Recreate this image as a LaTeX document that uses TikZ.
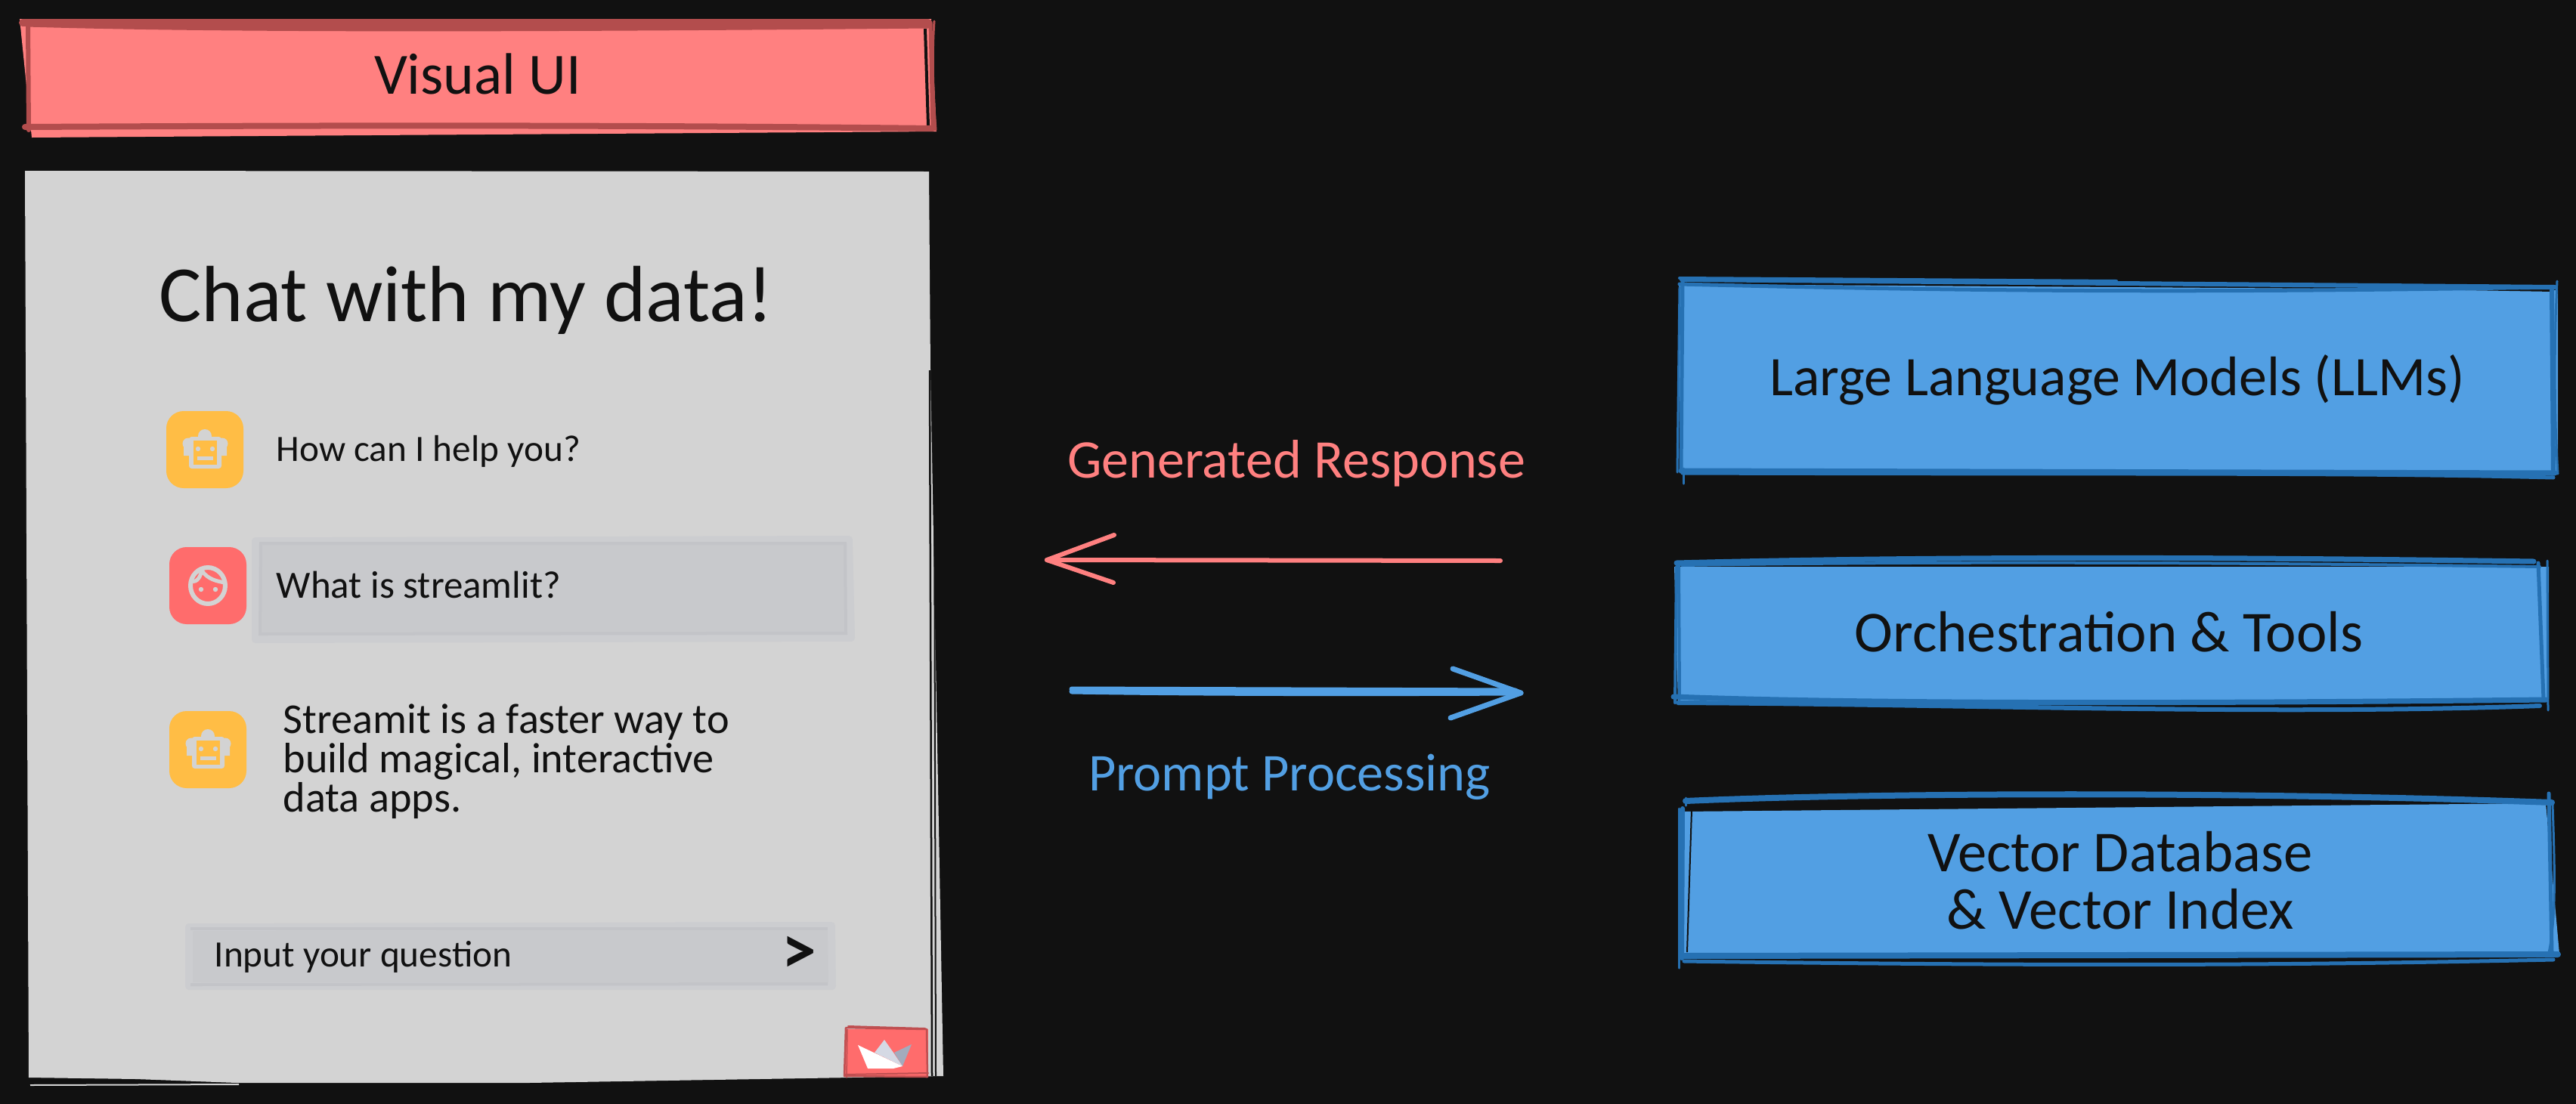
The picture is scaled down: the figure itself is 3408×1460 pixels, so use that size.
\documentclass[tikz,border=0pt]{standalone}
\usepackage{fontspec}
\setmainfont{Carlito}
\definecolor{bgk}{HTML}{111111}
\definecolor{panel}{HTML}{D3D3D3}
\definecolor{salmon}{HTML}{FF8080}
\definecolor{salmond}{HTML}{B34D4D}
\definecolor{skyb}{HTML}{529FE3}
\definecolor{skyd}{HTML}{2671B3}
\definecolor{amber}{HTML}{FFBD45}
\definecolor{coral}{HTML}{FF6C6C}
\definecolor{coral2}{HTML}{BF4F51}
\definecolor{chipf}{HTML}{C8C9CC}
\definecolor{chipl}{HTML}{CCCDD0}
\definecolor{chipd}{HTML}{C3C4C8}
\definecolor{crownm}{HTML}{D5D9E4}
\definecolor{crownd}{HTML}{A3ABBD}
\tikzset{
  lw/.style={line width=#1*0.2845pt},
  rough/.style={line cap=round,line join=round},
  salmonstroke/.style={rough,draw=salmond,lw=#1},
  bluestroke/.style={rough,draw=skyd,lw=#1},
  inktext/.style={text=bgk,inner sep=0pt},
  hero/.style={inktext,font=\fontsize{30}{34}\selectfont},
  chat/.style={inktext,font=\fontsize{14}{15}\selectfont},
  boxtext/.style={inktext,font=\fontsize{21.8}{21.6}\selectfont},
  iconbox/.style={rounded corners=6.5pt},
  iconink/.style={draw=panel,fill=none,lw=6,line join=round},
  redarrow/.style={rough,draw=salmon,lw=6},
  bluearrow/.style={rough,draw=skyb,lw=7},
  pics/robot/.style={code={
    \fill[iconbox,amber] (-51,-51) rectangle (51,51);
    \fill[panel] (0,-18) circle (9);
    \fill[panel] (-22,-8) circle (7.5) (23,-8) circle (7.5);
    \fill[panel] (-28,-5) rectangle (-18,8) (19,-5) rectangle (29,8);
    \fill[panel,rounded corners=1pt] (-21,-17) rectangle (22,25);
    \fill[amber] (-15,-12) rectangle (16,20);
    \fill[panel] (-9,-1) circle (3.2) (10,-1) circle (3.2);
    \fill[panel] (-10,9) rectangle (11,14);
  }},
  pics/person/.style={code={
    \fill[iconbox,coral] (-51,-51) rectangle (51,51);
    \draw[iconink] (0,0) ellipse (23 and 24);
    \draw[iconink,lw=5] (-21,-6) .. controls (-14,-4) and (-10,-12) .. (-8,-20);
    \draw[iconink,lw=5] (-8,-20) .. controls (0,-8) and (12,-6) .. (22,-4);
    \fill[panel] (-9,5) circle (3.2) (10,5) circle (3.2);
  }}
}
\begin{document}
\begin{tikzpicture}[x=0.01cm,y=-0.01cm]
\useasboundingbox (0,0) rectangle (3408,1460);
\fill[bgk] (-5,-5) rectangle (3413,1465);

% --- Visual UI header
\fill[salmon] (26,25) -- (1232,25) -- (1239,174) -- (42,182) -- cycle;
\draw[bgk,lw=4] (1224,38) -- (1228,166);
\draw[salmonstroke=6] (37,29) -- (38,172);
\draw[salmonstroke=5] (1231,30) -- (1234,170);
\draw[salmonstroke=3] (1236,28) .. controls (1233,70) and (1234,120) .. (1238,172);
\draw[salmonstroke=10] (30,30) -- (1228,30);
\draw[salmonstroke=7] (36,32) .. controls (300,40) and (700,39) .. (1228,34);
\draw[salmonstroke=8] (33,168) .. controls (400,166) and (800,165) .. (1234,170);
\node[inktext,font=\fontsize{22}{22}\selectfont] (vui) at (632,98) {Visual UI};

% --- Chat panel
\fill[panel] (33,226) -- (1229,227) -- (1231,490) -- (1248,1424) -- (700,1433) -- (313,1433) -- (180,1428) -- (38,1426) -- cycle;
\draw[panel,lw=2] (40,1436) -- (316,1435);
\draw[bgk,lw=2.5] (1230,490) -- (1233,1424);
\draw[bgk,lw=2] (1236,600) -- (1238,1424);
\node[hero] (title) at (617,397) {Chat with my data!};

% message 1
\pic at (271,595) {robot};
\node[chat,anchor=west] (m1) at (365,597) {How can I help you?};
% message 2
\pic at (275,775) {person};
\draw[chipl,fill=chipf,lw=10,rough] (338,716) -- (1123,714) -- (1126,844) -- (338,846) -- cycle;
\draw[chipd,lw=4] (345,719) -- (1118,719) -- (1119,838) -- (344,839) -- cycle;
\fill[chipf] (347,722) rectangle (1116,835);
\node[chat,anchor=west,font=\fontsize{14.5}{15}\selectfont] (m2) at (365,774) {What is streamlit?};
% message 3
\pic at (275,992) {robot};
\node[chat,anchor=west,align=left,font=\fontsize{16}{14.8}\selectfont] (m3) at (374,1008) {Streamit is a faster way to\\build magical, interactive\\data apps.};
% input
\draw[chipl,fill=chipf,lw=10,rough] (250,1227) -- (1100,1225) -- (1101,1305) -- (250,1305) -- cycle;
\draw[chipd,lw=4] (252,1229) -- (1095,1229);
\draw[chipd,lw=4] (252,1303) -- (1095,1302);
\node[chat,anchor=west] (inp) at (283,1266) {Input your question};
\node[inktext,font=\fontsize{26}{26}\bfseries\selectfont] (go) at (1057,1264) {>};
% streamlit badge
\fill[coral] (1118,1362) rectangle (1228,1425);
\draw[coral2,lw=2.5,rough] (1119,1360) -- (1226,1362) -- (1227,1425) -- (1117,1424) -- cycle;
\draw[coral2,lw=2,rough] (1122,1358) -- (1224,1361);
\draw[coral2,lw=2,rough] (1117,1422) -- (1228,1420);
\draw[coral2,lw=1.5,rough] (1121,1362) -- (1120,1426);
\fill[crownd] (1206,1382) -- (1194,1411) -- (1183,1393) -- cycle;
\fill[crownm] (1170,1376) -- (1157,1393) -- (1194,1411) -- (1182,1393) -- cycle;
\fill[white] (1135,1383) -- (1194,1411) -- (1182,1414) -- (1148,1414) -- cycle;

% --- Connectors
\coordinate (rs) at (1985,742);
\coordinate (rt) at (1385,741);
\coordinate (ra) at (1474,708);
\coordinate (rb) at (1473,771);
\draw[redarrow] (rs) -- (rt);
\draw[redarrow] (ra) -- (rt) -- (rb);
\node[font=\fontsize{20.5}{20}\selectfont,text=salmon,inner sep=0pt] (lresp) at (1715,613) {Generated Response};
\coordinate (bs) at (1418,912);
\coordinate (bt) at (2012,917);
\coordinate (bs2) at (1418,915);
\coordinate (ba) at (1922,885);
\coordinate (bb) at (1919,950);
\draw[bluearrow] (bs) -- (2005,914);
\draw[bluearrow] (bs2) .. controls (1600,918) and (1800,918) .. (bt);
\draw[bluearrow] (ba) -- (bt) -- (bb);
\node[font=\fontsize{20}{20}\selectfont,text=skyb,inner sep=0pt] (lprompt) at (1706,1028) {Prompt Processing};

% --- LLM box
\fill[skyb] (2221,376) -- (3384,384) -- (3384,628) -- (2222,626) -- cycle;
\draw[bgk,lw=2] (2800,375) -- (3378,385);
\draw[bluestroke=6] (2225,370) -- (3380,380);
\draw[bluestroke=5] (2222,376) .. controls (2700,388) and (3000,386) .. (3380,380);
\draw[bluestroke=4] (2222,368) -- (2800,372);
\draw[bluestroke=5] (2226,372) -- (2224,622);
\draw[bluestroke=3] (2222,380) -- (2219,625);
\draw[bluestroke=6] (3376,384) -- (3378,625);
\draw[bluestroke=3] (3383,372) .. controls (3379,450) and (3379,550) .. (3384,627);
\draw[bluestroke=7] (2224,623) -- (3380,626);
\draw[bluestroke=5] (2226,626) .. controls (2800,628) and (3100,625) .. (3378,632);
\draw[bluestroke=3] (2227,620) -- (2227,640);
\node[inktext,font=\fontsize{21}{21}\selectfont] (llm) at (2801,503) {Large Language Models (LLMs)};

% --- Orchestration box
\fill[skyb] (2215,750) -- (3372,750) -- (3372,925) -- (2220,930) -- cycle;
\draw[bgk,lw=2] (3250,747) -- (3360,750);
\draw[bluestroke=7] (2218,745) .. controls (2600,735) and (3000,738) .. (3352,743);
\draw[bluestroke=4] (2225,748) .. controls (2600,742) and (3000,745) .. (3360,750);
\draw[bluestroke=4] (2221,745) -- (2222,925);
\draw[bluestroke=4] (2218,750) -- (2216,930);
\draw[bluestroke=5] (3358,745) -- (3365,925);
\draw[bluestroke=3] (3370,742) -- (3371,940);
\draw[bluestroke=7] (2214,922) .. controls (2500,933) and (3000,930) .. (3368,926);
\draw[bluestroke=6] (2220,930) .. controls (2600,932) and (3000,947) .. (3360,934);
\node[boxtext] (orch) at (2790,836) {Orchestration \& Tools};

% --- Vector box
\fill[skyb] (2226,1074) -- (3368,1063) -- (3386,1262) -- (2226,1264) -- cycle;
\draw[bluestroke=8] (2230,1060) .. controls (2500,1048) and (3000,1048) .. (3376,1062);
\draw[bluestroke=3] (2230,1056) -- (2230,1066);
\draw[bluestroke=6] (2226,1070) -- (2225,1268);
\draw[bluestroke=3] (2221,1070) -- (2221,1281);
\draw[bgk,lw=2] (2238,1072) -- (2232,1260);
\draw[bluestroke=5] (3372,1050) -- (3376,1260);
\draw[bluestroke=3] (3377,1065) .. controls (3380,1150) and (3382,1220) .. (3371,1265);
\draw[bluestroke=8] (2226,1265) -- (3384,1263);
\draw[bluestroke=5] (2228,1272) .. controls (2800,1280) and (3100,1276) .. (3378,1270);
\node[boxtext,align=center] (vdb) at (2805,1165) {Vector Database\\\& Vector Index};
\end{tikzpicture}
\end{document}
